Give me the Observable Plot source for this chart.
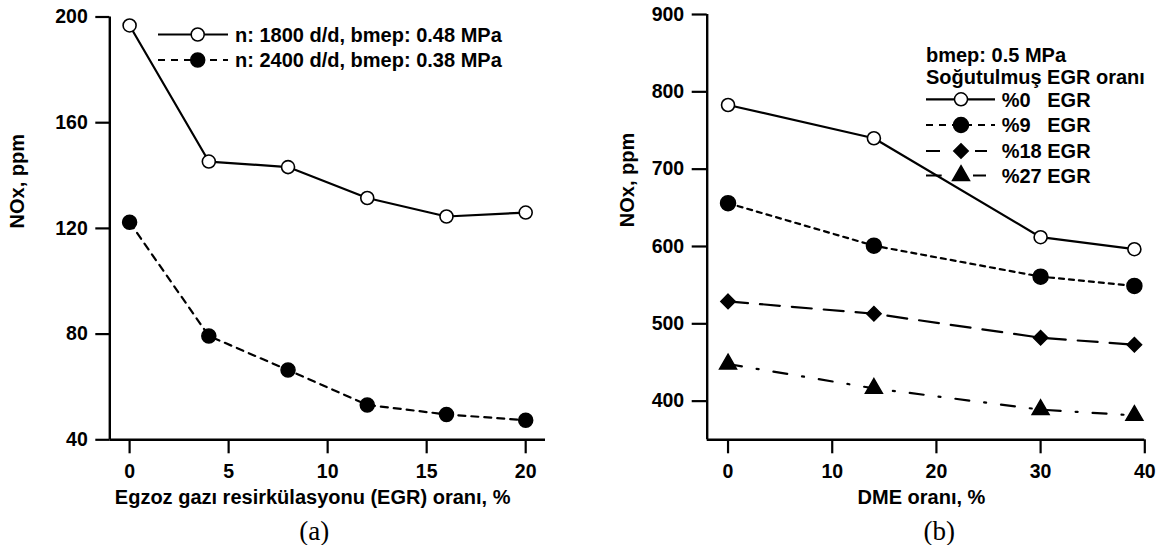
<!DOCTYPE html>
<html><head><meta charset="utf-8">
<script src="https://cdn.jsdelivr.net/npm/d3@7"></script>
<script src="https://cdn.jsdelivr.net/npm/@observablehq/plot@0.6"></script>
<style>
body{margin:0;background:#fff;}
#wrap{display:flex;width:1163px;height:545px;}
</style></head><body><div id="wrap"></div>
<script>
// ---- Panel (a) data ----
const egrA = [0, 4, 8, 12, 16, 20];
const nox1800 = [196.8, 145.3, 143.2, 131.5, 124.5, 126];
const nox2400 = [122.3, 79.3, 66.4, 53.2, 49.6, 47.4];
const xTicksA = [0, 5, 10, 15, 20];
const yTicksA = [40, 80, 120, 160, 200];
const xDomA = [-1, 21];
const yDomA = [40, 200];
const seriesA = ["n: 1800 d/d, bmep: 0.48 MPa", "n: 2400 d/d, bmep: 0.38 MPa"];
const xLabelA = "Egzoz gazı resirkülasyonu (EGR) oranı, %";
const yLabel = "NOx, ppm";

// ---- Panel (b) data ----
const dmeB = [0, 14, 30, 39];
const egr0 = [783, 740, 612, 596.5];
const egr9 = [656, 601, 561, 549];
const egr18 = [529, 513, 482, 473];
const egr27 = [448, 416.5, 389, 381.5];
const xTicksB = [0, 10, 20, 30, 40];
const yTicksB = [400, 500, 600, 700, 800, 900];
const xDomB = [-2, 40];
const yDomB = [350, 900];
const seriesB = ["%0   EGR", "%9   EGR", "%18 EGR", "%27 EGR"];
const legendTitleB = ["bmep: 0.5 MPa", "Soğutulmuş EGR oranı"];
const xLabelB = "DME oranı, %";

const FONT = "'Liberation Sans', Arial, sans-serif";
const SERIF = "'Liberation Serif', 'Times New Roman', serif";

const toPts = (xs, ys) => xs.map((x, i) => ({x, y: ys[i]}));

function legendMark(spec) {
  return () => {
    const g = d3.create("svg:g")
      .attr("font-family", FONT).attr("font-weight", "bold").attr("font-size", 20)
      .attr("fill", "black").attr("text-anchor", "start");
    (spec.titles || []).forEach(t => {
      g.append("text").attr("x", t.x).attr("y", t.y).attr("dy", "0.36em").attr("text-anchor", "start").text(t.text);
    });
    spec.rows.forEach(r => {
      const ln = g.append("line").attr("x1", r.x0).attr("x2", r.x1).attr("y1", r.y).attr("y2", r.y)
        .attr("stroke", "black").attr("stroke-width", 2.2);
      if (r.dash) ln.attr("stroke-dasharray", r.dash);
      g.append("path")
        .attr("d", d3.symbol(r.symbol, Math.PI * r.r * r.r)())
        .attr("transform", `translate(${r.mx},${r.y})`)
        .attr("fill", r.fill).attr("stroke", "black").attr("stroke-width", 1.5);
      g.append("text").attr("x", r.tx).attr("y", r.y).attr("dy", "0.36em").attr("text-anchor", "start")
        .style("white-space", "pre").text(r.text);
    });
    return g.node();
  };
}

const common = {
  fontFamily: FONT, fontWeight: "bold", fontSize: "20px", color: "black", background: "white", overflow: "visible"
};
const tickFont = {fontSize: 19.5, fontWeight: "bold", fontFamily: FONT, fill: "black"};

function axesMarks(xTicks, yTicks, ySize) {
  return [
    Plot.axisX({ticks: xTicks, tickSize: 14, strokeWidth: 2.2, label: null, tickFormat: () => ""}),
    Plot.axisY({ticks: yTicks, tickSize: ySize, strokeWidth: 2.2, label: null, tickFormat: () => ""}),
    Plot.text(xTicks, {x: d => d, frameAnchor: "bottom", dy: 32.4, lineAnchor: "middle", ...tickFont}),
    Plot.text(yTicks, {y: d => d, frameAnchor: "left", dx: -(ySize + 8), textAnchor: "end", ...tickFont})
  ];
}

const left = Plot.plot({
  width: 581, height: 545,
  marginLeft: 109.3, marginRight: 36, marginTop: 16.5, marginBottom: 105.7,
  x: {domain: xDomA}, y: {domain: yDomA},
  style: common,
  marks: [
    Plot.ruleX([xDomA[0]], {stroke: "black", strokeWidth: 2.4}),
    Plot.ruleY([yDomA[0]], {stroke: "black", strokeWidth: 2.4}),
    ...axesMarks(xTicksA, yTicksA, 14),
    Plot.text([xLabelA], {frameAnchor: "bottom", dy: 57.7, dx: -15, fontSize: 20, fontWeight: "bold", lineAnchor: "middle"}),
    Plot.text([yLabel], {frameAnchor: "left", rotate: -90, dx: -92, fontSize: 20, fontWeight: "bold", lineAnchor: "middle"}),
    Plot.text(["(a)"], {frameAnchor: "bottom", dy: 91.7, dx: -13.5, fontSize: 27, fontWeight: "normal", fontFamily: SERIF, lineAnchor: "middle"}),
    Plot.line(toPts(egrA, nox1800), {x: "x", y: "y", stroke: "black", strokeWidth: 2.2}),
    Plot.line(toPts(egrA, nox2400), {x: "x", y: "y", stroke: "black", strokeWidth: 2.2, strokeDasharray: "7,6"}),
    Plot.dot(toPts(egrA, nox1800), {x: "x", y: "y", r: 6.5, fill: "white", stroke: "black", strokeWidth: 1.6}),
    Plot.dot(toPts(egrA, nox2400), {x: "x", y: "y", r: 7, fill: "black", stroke: "black"}),
    legendMark({rows: [
      {y: 34.5, x0: 158, x1: 228, mx: 197.7, tx: 235, symbol: d3.symbolCircle, r: 6.5, fill: "white", dash: null, text: seriesA[0]},
      {y: 60, x0: 158, x1: 228, mx: 197.7, tx: 235, symbol: d3.symbolCircle, r: 7, fill: "black", dash: "7,6", text: seriesA[1]}
    ]})
  ]
});

const right = Plot.plot({
  width: 582, height: 545,
  marginLeft: 125.7, marginRight: 18.7, marginTop: 14, marginBottom: 105.7,
  x: {domain: xDomB}, y: {domain: yDomB},
  style: common,
  marks: [
    Plot.ruleX([xDomB[0]], {stroke: "black", strokeWidth: 2.4}),
    Plot.ruleY([yDomB[0]], {stroke: "black", strokeWidth: 2.4}),
    ...axesMarks(xTicksB, yTicksB, 15),
    Plot.text([xLabelB], {frameAnchor: "bottom", dy: 57.7, dx: -4.5, fontSize: 20, fontWeight: "bold", lineAnchor: "middle"}),
    Plot.text([yLabel], {frameAnchor: "left", rotate: -90, dx: -80, fontSize: 20, fontWeight: "bold", lineAnchor: "middle"}),
    Plot.text(["(b)"], {frameAnchor: "bottom", dy: 91.7, dx: 13.2, fontSize: 27, fontWeight: "normal", fontFamily: SERIF, lineAnchor: "middle"}),
    Plot.line(toPts(dmeB, egr0), {x: "x", y: "y", stroke: "black", strokeWidth: 2.2}),
    Plot.line(toPts(dmeB, egr9), {x: "x", y: "y", stroke: "black", strokeWidth: 2.2, strokeDasharray: "5,5"}),
    Plot.line(toPts(dmeB, egr18), {x: "x", y: "y", stroke: "black", strokeWidth: 2.2, strokeDasharray: "20,12"}),
    Plot.line(toPts(dmeB, egr27), {x: "x", y: "y", stroke: "black", strokeWidth: 2.2, strokeDasharray: "14,15,2,15"}),
    Plot.dot(toPts(dmeB, egr0), {x: "x", y: "y", r: 6.5, fill: "white", stroke: "black", strokeWidth: 1.6}),
    Plot.dot(toPts(dmeB, egr9), {x: "x", y: "y", r: 7.5, fill: "black", stroke: "black"}),
    Plot.dot(toPts(dmeB, egr18), {x: "x", y: "y", r: 6.5, symbol: "diamond2", fill: "black", stroke: "black"}),
    Plot.dot(toPts(dmeB, egr27), {x: "x", y: "y", r: 6.3, symbol: "triangle", fill: "black", stroke: "black"}),
    legendMark({
      titles: [{x: 345, y: 55, text: legendTitleB[0]}, {x: 345, y: 76.7, text: legendTitleB[1]}],
      rows: [
        {y: 99.3, x0: 345, x1: 414, mx: 380, tx: 420.7, symbol: d3.symbolCircle, r: 6.5, fill: "white", dash: null, text: seriesB[0]},
        {y: 125, x0: 345, x1: 414, mx: 380, tx: 420.7, symbol: d3.symbolCircle, r: 7.5, fill: "black", dash: "7,6", text: seriesB[1]},
        {y: 151, x0: 345, x1: 406, mx: 380, tx: 420.7, symbol: d3.symbolDiamond2, r: 6.5, fill: "black", dash: "14,35", text: seriesB[2]},
        {y: 175.5, x0: 345, x1: 405, mx: 380, tx: 420.7, symbol: d3.symbolTriangle, r: 6.3, fill: "black", dash: "15.7,31.3", text: seriesB[3]}
      ]
    })
  ]
});

const wrap = document.getElementById("wrap");
wrap.appendChild(left);
wrap.appendChild(right);
</script>
</body></html>
